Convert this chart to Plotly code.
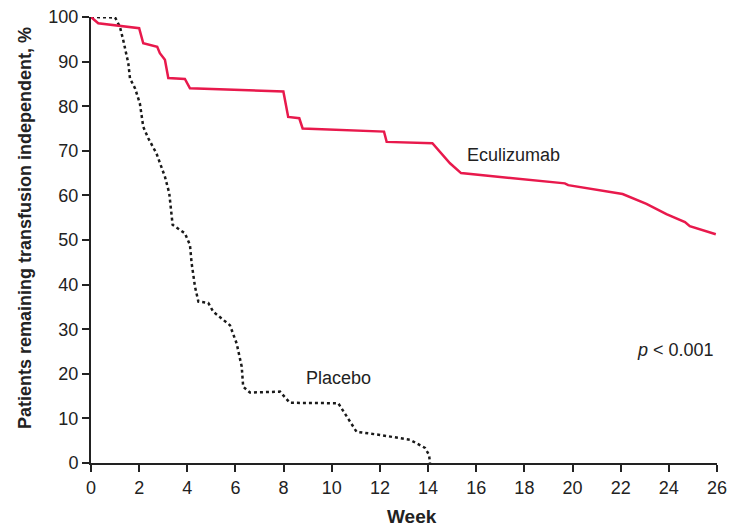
import plotly.graph_objects as go

# Kaplan-Meier style curves (week, % transfusion independent)
ecu_week = [0, 0.3, 2.0, 2.17, 2.75, 2.86, 3.07, 3.21, 3.9, 4.11, 7.99, 8.19, 8.65, 8.79,
            12.17, 12.28, 14.18, 14.91, 15.37, 19.68, 19.82, 22.08, 23.07, 23.9, 24.67, 24.87, 25.95]
ecu_pct = [100, 98.6, 97.5, 94.1, 93.3, 91.9, 90.4, 86.3, 86.1, 84.0, 83.3, 77.6, 77.3, 75.0,
           74.3, 72.0, 71.7, 67.2, 65.0, 62.7, 62.3, 60.3, 58.1, 55.8, 54.0, 53.1, 51.3]

pla_week = [0, 1.0, 1.2, 1.34, 1.55, 1.62, 1.83, 2.03, 2.17, 2.38, 2.72, 2.93, 3.07, 3.25, 3.39,
            3.9, 4.11, 4.18, 4.32, 4.46, 4.87, 5.08, 5.77, 6.05, 6.26, 6.32, 6.6, 7.85, 8.26,
            10.27, 10.61, 11.03, 12.0, 13.25, 13.87, 14.04, 14.08]
pla_pct = [100, 99.9, 97.8, 94.8, 89.6, 86.2, 84.0, 80.6, 75.4, 72.8, 69.4, 66.0, 64.2, 60.5, 53.4,
           51.5, 48.9, 44.8, 39.5, 36.2, 35.9, 33.9, 30.9, 26.8, 21.6, 17.1, 15.8, 16.0, 13.5,
           13.4, 10.4, 7.0, 6.3, 5.2, 3.4, 1.8, 0]

x_ticks = list(range(0, 27, 2))
y_ticks = list(range(0, 101, 10))

RED = '#E8194C'
INK = '#222'
FONT = 'Liberation Sans, Arial, sans-serif'

fig = go.Figure()

fig.add_trace(go.Scatter(
    x=pla_week, y=pla_pct,
    mode='lines',
    line=dict(color='#1a1a1a', width=2.5, dash='dot'),
    cliponaxis=False,
    name='Placebo'
))

fig.add_trace(go.Scatter(
    x=ecu_week, y=ecu_pct,
    mode='lines',
    line=dict(color=RED, width=2.5),
    cliponaxis=False,
    name='Eculizumab'
))

# curve labels
fig.add_annotation(x=17.55, y=69, text='Eculizumab', showarrow=False,
                   font=dict(family=FONT, size=18, color=INK))
fig.add_annotation(x=10.3, y=19, text='Placebo', showarrow=False,
                   font=dict(family=FONT, size=18, color=INK))
fig.add_annotation(x=25.95, y=25.3, text='<i>p</i> < 0.001', showarrow=False,
                   xanchor='right', font=dict(family=FONT, size=18, color=INK))

# axis titles as annotations so their positions are fixed
fig.add_annotation(xref='paper', yref='paper', x=0, y=0.527, xshift=-66,
                   xanchor='center', yanchor='middle',
                   text='<b>Patients remaining transfusion independent, %</b>',
                   textangle=-90, showarrow=False,
                   font=dict(family=FONT, size=18, color=INK))
fig.add_annotation(xref='paper', yref='paper', x=0.513, y=0, yshift=-53,
                   xanchor='center', yanchor='middle',
                   text='<b>Week</b>', showarrow=False,
                   font=dict(family=FONT, size=19, color=INK))

fig.update_layout(
    width=730, height=529,
    margin=dict(l=91, r=13, t=17, b=66),
    plot_bgcolor='white',
    paper_bgcolor='white',
    showlegend=False,
    font=dict(family=FONT, size=18, color=INK),
)

fig.update_xaxes(
    range=[0, 26],
    tickvals=x_ticks,
    ticks='outside', ticklen=7, tickwidth=2, tickcolor=INK,
    showline=True, linecolor=INK, linewidth=2,
    showgrid=False, zeroline=False, automargin=False,
    ticklabeloverflow='allow',
    tickfont=dict(family=FONT, size=18, color=INK),
)

fig.update_yaxes(
    range=[0, 100],
    tickvals=y_ticks,
    ticks='outside', ticklen=7, tickwidth=2, tickcolor=INK,
    showline=True, linecolor=INK, linewidth=2,
    showgrid=False, zeroline=False, automargin=False,
    ticklabeloverflow='allow',
    tickfont=dict(family=FONT, size=18, color=INK),
)

# drop the default page margin / scrollbars so the figure fills the window exactly
fig.write_html("out.html",
               config={'displayModeBar': False},
               post_script="document.body.style.margin='0';document.body.style.overflow='hidden';")
